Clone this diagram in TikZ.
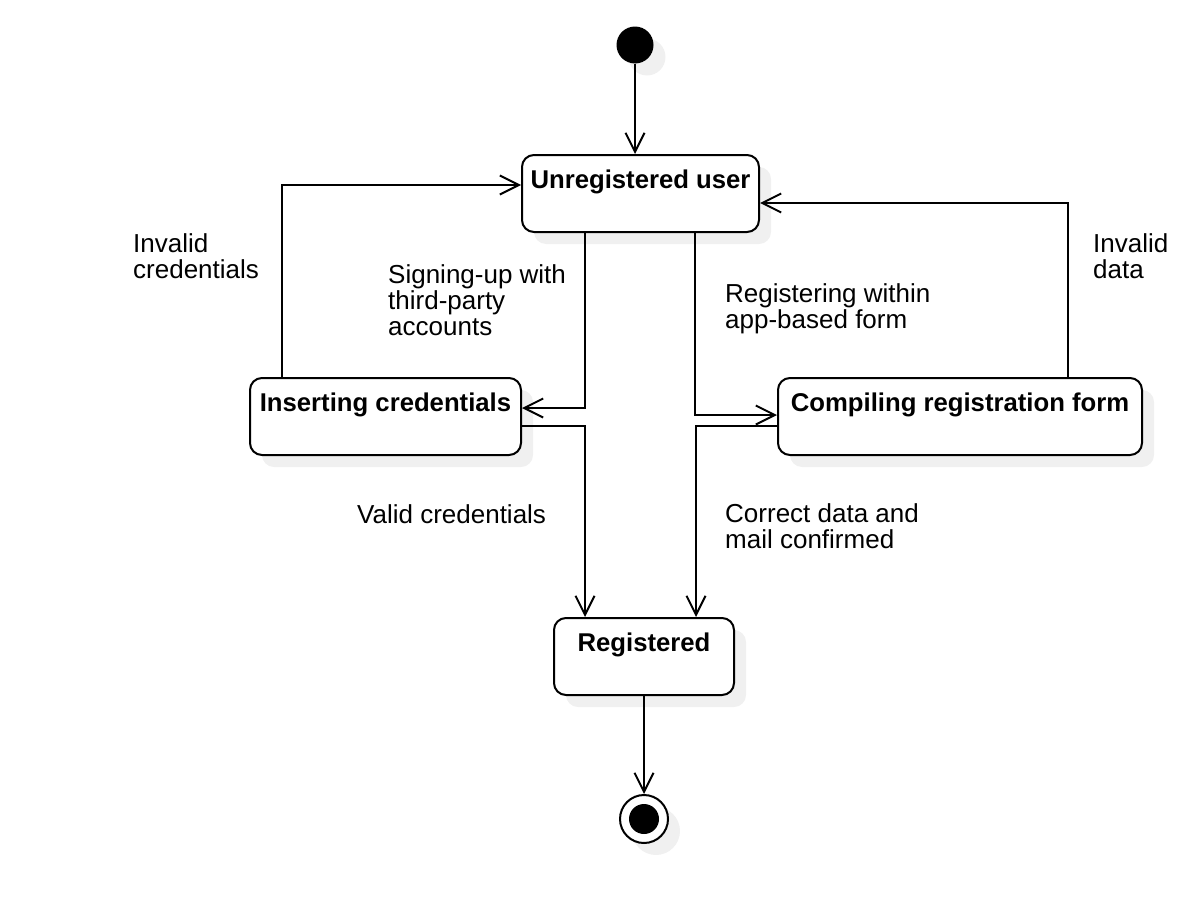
\documentclass[tikz,border=0pt]{standalone}
\usepackage{fontspec}
\setmainfont{Liberation Sans}
\usetikzlibrary{arrows.meta, positioning, calc, shadows}

\tikzset{
  state/.style={draw, line width=2pt, rounded corners=12pt, fill=white,
    inner sep=0pt, font=\bfseries\fontsize{25.7}{27}\selectfont,
    text height=33pt, text depth=44pt,
    drop shadow={opacity=1, fill=black!6, shadow xshift=12pt, shadow yshift=-12pt}},
  startdot/.style={circle, fill=black, inner sep=0pt, minimum size=37pt,
    drop shadow={opacity=1, fill=black!6, shadow xshift=12pt, shadow yshift=-12pt}},
  enddot/.style={circle, draw, line width=2pt, fill=white, inner sep=0pt,
    minimum size=48pt,
    drop shadow={opacity=1, fill=black!6, shadow xshift=12pt, shadow yshift=-12pt}},
  trans/.style={line width=2pt, -{Straight Barb[length=19pt, width=19pt]}},
  lbl/.style={font=\fontsize{26}{26}\selectfont, align=left, anchor=base west,
    inner sep=0pt},
}

\begin{document}
\begin{tikzpicture}[x=1pt, y=-1pt]
  \useasboundingbox (0,0) rectangle (1204,918);

  % states
  \node[startdot] (start) at (635,45) {};
  \node[state, minimum width=237pt] (user) at (640.5,193.5) {Unregistered user};
  \node[state, minimum width=271pt] (ins) at (385.5,416.5) {Inserting credentials};
  \node[state, minimum width=364pt] (comp) at (960,416.5) {Compiling registration form};
  \node[state, minimum width=180pt] (reg) at (644,656.5) {Registered};
  \node[enddot] (end) at (644,819) {};
  \node[circle, fill=black, inner sep=0pt, minimum size=30pt] (endin) at (end) {};

  % transitions
  \draw[trans] (start) -- (start |- user.north);
  \draw[trans] ([xshift=33pt]ins.north west) |- ([yshift=8.5pt]user.west);
  \draw[trans] ([xshift=64pt]user.south west) |- ([yshift=8.5pt]ins.east);
  \draw[trans] ([xshift=174pt]user.south west) |- ([yshift=1.5pt]comp.west);
  \draw[trans] ([xshift=-75pt]comp.north east) |- ([yshift=-9.5pt]user.east);
  \draw[trans] ([yshift=-9.5pt]ins.east) -| ([xshift=32pt]reg.north west);
  \draw[trans] ([yshift=-9.5pt]comp.west) -| ([xshift=143pt]reg.north west);
  \draw[trans] (reg.south) -- (end.north);

  % guards (base = last line)
  \node[lbl] (invcred) at (133,278) {Invalid\\credentials};
  \node[lbl] (signup) at (388,335) {Signing-up with\\third-party\\accounts};
  \node[lbl] (appform) at (725,328) {Registering within\\app-based form};
  \node[lbl] (invdata) at (1093,278) {Invalid\\data};
  \node[lbl] (validcred) at (357,523) {Valid credentials};
  \node[lbl] (confirmed) at (725,548) {Correct data and\\mail confirmed};
\end{tikzpicture}
\end{document}
